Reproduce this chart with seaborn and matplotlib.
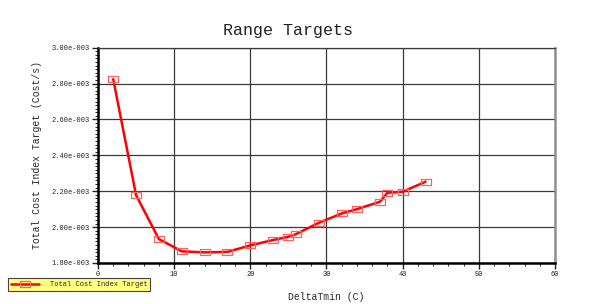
import numpy as np
import pandas as pd
import seaborn as sns
import matplotlib
matplotlib.use("Agg")
import matplotlib.pyplot as plt
from matplotlib.ticker import FuncFormatter, MultipleLocator

# ---- data ----
delta_tmin = [2, 5, 8, 11, 14, 17, 20, 23, 25, 26, 29, 32, 34, 37, 38, 40, 43]
cost_index = [2.825e-3, 2.178e-3, 1.933e-3, 1.865e-3, 1.859e-3, 1.862e-3, 1.898e-3,
              1.928e-3, 1.946e-3, 1.961e-3, 2.024e-3, 2.076e-3, 2.100e-3, 2.141e-3,
              2.191e-3, 2.197e-3, 2.253e-3]
series_name = "Total Cost Index Target"
title = "Range Targets"
x_label = "DeltaTmin (C)"
y_label = "Total Cost Index Target (Cost/s)"

sns.set_style("white")
plt.rcParams['font.family'] = ['Liberation Mono', 'DejaVu Sans Mono']

df = pd.DataFrame({x_label: delta_tmin, y_label: cost_index})

fig = plt.figure(figsize=(5.96, 3.04), dpi=100)
ax = fig.add_axes([0.1644, 0.135, 0.7668, 0.708])

rect = [(-1.3, -0.8), (1.3, -0.8), (1.3, 0.8), (-1.3, 0.8), (-1.3, -0.8)]
sns.lineplot(data=df, x=x_label, y=y_label, ax=ax, color="#ff0000", linewidth=1.8,
             marker=rect, markersize=7, markerfacecolor="none",
             markeredgecolor="#ff6060", markeredgewidth=0.9, label=series_name,
             legend=False, zorder=5)

ax.set_xlim(0, 60)
ax.set_ylim(1.8e-3, 3.0e-3)
ax.xaxis.set_major_locator(MultipleLocator(10))
ax.xaxis.set_minor_locator(MultipleLocator(2))
ax.yaxis.set_major_locator(MultipleLocator(0.2e-3))
ax.yaxis.set_minor_locator(MultipleLocator(0.02e-3))

def yfmt(v, pos):
    if v == 0:
        return "0"
    e = int(np.floor(np.log10(abs(v)) + 1e-9))
    m = v / 10 ** e
    sign = "-" if e < 0 else "+"
    return f"{m:.2f}e{sign}{abs(e):03d}"

ax.yaxis.set_major_formatter(FuncFormatter(yfmt))
ax.tick_params(axis="both", which="major", labelsize=5, length=4, width=1,
               direction="out", colors="#222222", pad=2, left=True, bottom=True)
ax.tick_params(axis="both", which="minor", length=2, width=0.7, direction="out",
               left=True, bottom=True, colors="#222222")

ax.grid(True, which="major", color="#3a3a3a", linewidth=0.9)
for s in ["left", "bottom"]:
    ax.spines[s].set_color("black")
    ax.spines[s].set_linewidth(1.8)
ax.spines["top"].set_color("#3a3a3a")
ax.spines["top"].set_linewidth(0.9)
ax.spines["right"].set_color("#909090")
ax.spines["right"].set_linewidth(1.8)

ax.set_xlabel(x_label, fontsize=7, labelpad=10)
ax.set_ylabel(y_label, fontsize=7, labelpad=7)
fig.text(0.483, 0.9, title, fontsize=12, ha="center", va="center",
         color="#222222")

handles, labels = ax.get_legend_handles_labels()
leg = fig.legend(handles, labels, loc="lower left", bbox_to_anchor=(0.008, 0.03),
                 fontsize=5, frameon=True, fancybox=False, handlelength=4,
                 borderpad=0.45, handletextpad=1.5)
leg.get_frame().set_facecolor("#ffff80")
leg.get_frame().set_edgecolor("#444444")
leg.get_frame().set_linewidth(0.8)
leg.get_frame().set_alpha(1)

fig.savefig("out.png", dpi=100, facecolor="white")
